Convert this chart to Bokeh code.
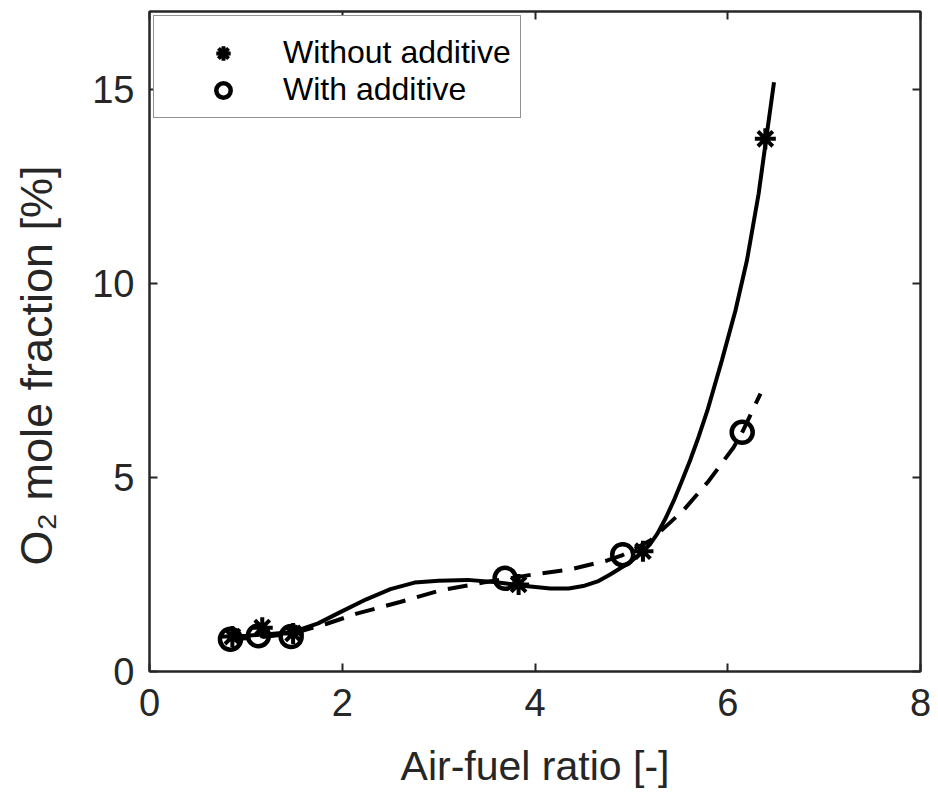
from bokeh.plotting import figure
from bokeh.models import (Range1d, LinearAxis, FixedTicker, Legend, LegendItem,
                          CustomJSTickFormatter, Title)
from bokeh.embed import file_html
from bokeh.resources import INLINE

# measured points
afr_without = [0.86, 1.17, 1.49, 3.83, 5.12, 6.39]
o2_without = [0.90, 1.13, 0.98, 2.24, 3.10, 13.72]
afr_with = [0.84, 1.13, 1.47, 3.69, 4.91, 6.15]
o2_with = [0.83, 0.92, 0.90, 2.40, 3.01, 6.16]

# fitted trend curves
fit_without_x = [0.86, 1.0, 1.17, 1.49, 1.75, 1.98, 2.25, 2.5, 2.75, 3.0, 3.3, 3.6, 3.9, 4.16,
                 4.35, 4.5, 4.65, 4.78, 4.99, 5.12, 5.20, 5.27, 5.35, 5.44, 5.52, 5.61, 5.70,
                 5.79, 5.94, 6.08, 6.20, 6.32, 6.40, 6.48]
fit_without_y = [0.90, 0.92, 0.95, 1.02, 1.24, 1.53, 1.86, 2.12, 2.29, 2.34, 2.36, 2.30, 2.20, 2.14,
                 2.14, 2.20, 2.32, 2.50, 2.82, 3.10, 3.30, 3.55, 3.92, 4.40, 4.88, 5.44, 6.06,
                 6.73, 8.02, 9.30, 10.60, 12.30, 13.74, 15.18]
fit_with_x = [0.84, 1.13, 1.47, 1.84, 2.15, 2.60, 3.02, 3.46, 3.69, 3.98, 4.37, 4.75, 4.91, 5.20,
              5.54, 5.80, 6.06, 6.15, 6.34]
fit_with_y = [0.83, 0.88, 0.97, 1.23, 1.49, 1.79, 2.09, 2.29, 2.38, 2.50, 2.63, 2.86, 3.00, 3.38,
              4.15, 4.90, 5.77, 6.16, 7.16]

x_ticks = [0, 2, 4, 6, 8]
y_ticks = [0, 5, 10, 15]

legend_labels = ["Without additive", "With additive"]
x_title = "Air-fuel ratio [-]"
y_title = "O\u2082 mole fraction [%]"

AX = "#262626"
FONT = "Liberation Sans"

p = figure(width=938, height=808, x_range=Range1d(0, 8), y_range=Range1d(0, 17),
           output_backend="svg", toolbar_location=None,
           min_border_left=149, min_border_right=18, min_border_top=11, min_border_bottom=137)
p.background_fill_color = "white"
p.border_fill_color = "white"
p.grid.visible = False
p.outline_line_color = AX
p.outline_line_width = 2

for ax, ticks in ((p.xaxis[0], x_ticks), (p.yaxis[0], y_ticks)):
    ax.ticker = FixedTicker(ticks=ticks)
    ax.major_tick_in = 8
    ax.major_tick_out = 0
    ax.minor_tick_line_color = None
    ax.axis_line_color = AX
    ax.axis_line_width = 2
    ax.major_tick_line_color = AX
    ax.major_tick_line_width = 2
    ax.major_label_text_font = FONT
    ax.major_label_text_font_size = "38px"
    ax.major_label_text_color = AX
    ax.axis_label_text_font = FONT
    ax.axis_label_text_font_style = "normal"
    ax.axis_label_text_color = AX

p.xaxis[0].axis_label = x_title
p.xaxis[0].axis_label_text_font_size = "41px"
p.xaxis[0].major_label_standoff = 17
p.xaxis[0].axis_label_standoff = 24
p.yaxis[0].major_label_standoff = 15

for loc, ticks in (("above", x_ticks), ("right", y_ticks)):
    ax = LinearAxis(ticker=FixedTicker(ticks=ticks),
                    formatter=CustomJSTickFormatter(code="return ''"),
                    major_label_text_font_size="0px", major_label_standoff=0,
                    major_tick_in=8, major_tick_out=0, minor_tick_line_color=None,
                    axis_line_color=AX, axis_line_width=2,
                    major_tick_line_color=AX, major_tick_line_width=2)
    p.add_layout(ax, loc)

# invisible spacer between the y tick labels and the y title
spacer = LinearAxis(ticker=FixedTicker(ticks=y_ticks),
                    formatter=CustomJSTickFormatter(code="return ''"),
                    major_label_text_font_size="0px", major_label_standoff=0,
                    major_tick_in=0, major_tick_out=28, minor_tick_line_color=None,
                    axis_line_color=None, major_tick_line_color=None)

# y axis title as a side title so it can be offset along the axis
ytitle = Title(text=y_title, align="left", offset=106, standoff=0,
               text_font=FONT, text_font_size="45px", text_font_style="normal",
               text_color=AX)
p.left = [p.yaxis[0], spacer, ytitle]

p.line(fit_without_x, fit_without_y, line_color="black", line_width=4)
p.line(fit_with_x, fit_with_y, line_color="black", line_width=4, line_dash="20 12")

r_without = p.scatter(afr_without, o2_without, marker="asterisk", size=21,
                      line_color="black", line_width=4)
r_with = p.scatter(afr_with, o2_with, marker="circle", size=21, fill_color=None,
                   line_color="black", line_width=4.5)

legend = Legend(items=[LegendItem(label=legend_labels[0], renderers=[r_without]),
                       LegendItem(label=legend_labels[1], renderers=[r_with])],
                location="top_left", margin=4, padding=9, spacing=0,
                glyph_width=120, glyph_height=36, label_height=36, label_standoff=0,
                label_text_font=FONT, label_text_font_size="32px", label_text_color="black",
                label_text_line_height=1.0,
                border_line_color=AX, border_line_width=1.5, background_fill_color="white",
                background_fill_alpha=1.0,
                title=" ", title_text_font_size="8px", title_standoff=0)
p.add_layout(legend)

open("out.html", "w").write(file_html(p, INLINE))
